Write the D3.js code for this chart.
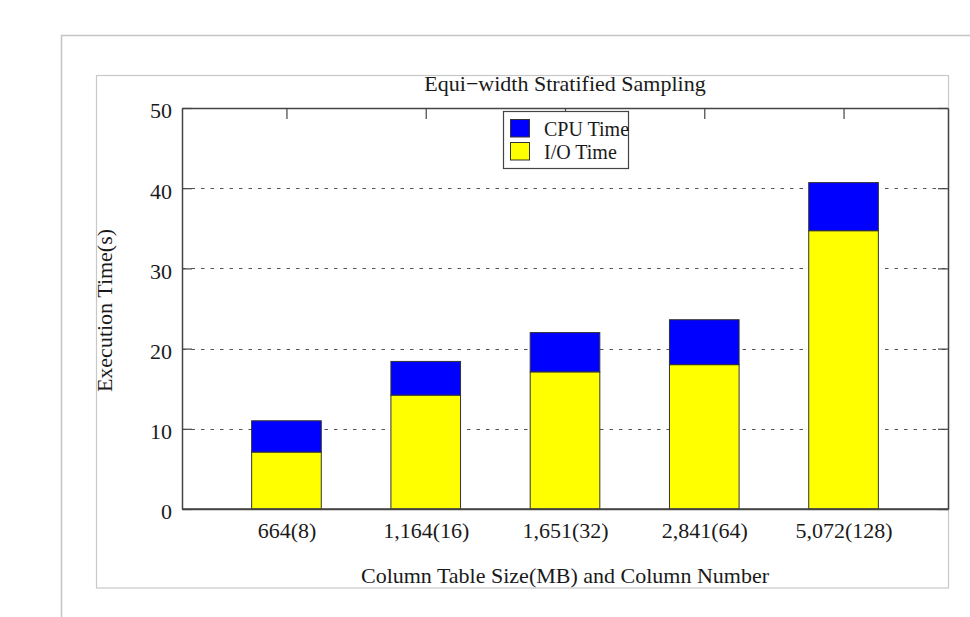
<!DOCTYPE html>
<html>
<head>
<meta charset="utf-8">
<script src="https://cdn.jsdelivr.net/npm/d3@7"></script>
<style>
  html, body { margin: 0; padding: 0; background: #ffffff; }
  svg { display: block; }
  text { font-family: "Liberation Serif", "Times New Roman", serif; fill: #1a1a1a; }
</style>
</head>
<body>
<svg id="chart" width="970" height="617"></svg>
<script>
// Stacked execution time per column table (seconds)
const categories = ["664(8)", "1,164(16)", "1,651(32)", "2,841(64)", "5,072(128)"];
const ioTime  = [7.1, 14.2, 17.1, 18.0, 34.7];
const cpuTime = [3.9, 4.2, 4.9, 5.6, 6.0];
const yTicks = [0, 10, 20, 30, 40, 50];
const seriesNames = ["CPU Time", "I/O Time"];
const seriesColors = { "CPU Time": "#0000ff", "I/O Time": "#ffff00" };

const svg = d3.select("#chart");
const W = 970, H = 617;

// plot area
const plotL = 182, plotR = 948, plotT = 108, plotB = 509;
const fontSize = 22;

// page frames
svg.append("path")
  .attr("d", `M61.5,${H} V35.5 H${W}`)
  .attr("fill", "none").attr("stroke", "#c4c4c4").attr("stroke-width", 1.5);
svg.append("rect")
  .attr("x", 96.5).attr("y", 75.5).attr("width", 852).attr("height", 512.5)
  .attr("fill", "none").attr("stroke", "#c8c8c8").attr("stroke-width", 1.2);

const x = d3.scaleLinear().domain([0.25, categories.length + 0.75]).range([plotL, plotR]);
const y = d3.scaleLinear().domain([0, 50]).range([plotB, plotT]);

// dotted grid
svg.append("g").selectAll("line")
  .data(yTicks.filter(v => v > 0 && v < 50))
  .join("line")
  .attr("x1", plotL).attr("x2", plotR)
  .attr("y1", d => Math.round(y(d)) + 0.5).attr("y2", d => Math.round(y(d)) + 0.5)
  .attr("stroke", "#555").attr("stroke-width", 1.2)
  .attr("stroke-dasharray", "3.5,6");

// axes (drawn under the bars so the inward bottom ticks stay hidden)
const axisColor = "#444";
const centers = categories.map((c, i) => i + 1);
function styleAxis(g) {
  g.selectAll("path.domain").attr("stroke", axisColor).attr("stroke-width", 1.5);
  g.selectAll(".tick line").attr("stroke", axisColor).attr("stroke-width", 1.2);
  g.selectAll(".tick text").attr("font-family", "Liberation Serif")
    .attr("font-size", fontSize).attr("fill", "#1a1a1a");
}

svg.append("g").attr("transform", `translate(${plotL},0)`)
  .call(d3.axisLeft(y).tickValues(yTicks).tickSizeInner(-10).tickSizeOuter(0).tickPadding(10))
  .call(styleAxis)
  .call(g => g.selectAll(".tick text").attr("dy", "0.45em"));

svg.append("g").attr("transform", `translate(${plotR},0)`)
  .call(d3.axisRight(y).tickValues(yTicks).tickSizeInner(-10).tickSizeOuter(0).tickFormat(""))
  .call(styleAxis);

svg.append("g").attr("transform", `translate(0,${plotT})`)
  .call(d3.axisTop(x).tickValues(centers).tickSizeInner(-11).tickSizeOuter(0).tickFormat(""))
  .call(styleAxis);

svg.append("g").attr("transform", `translate(0,${plotB})`)
  .call(d3.axisBottom(x).tickValues(centers).tickSizeInner(-10).tickSizeOuter(0).tickPadding(13)
    .tickFormat((d, i) => categories[i]))
  .call(styleAxis);

// stacked bars
const stackData = categories.map((c, i) => ({ idx: i + 1, "I/O Time": ioTime[i], "CPU Time": cpuTime[i] }));
const stacked = d3.stack().keys(["I/O Time", "CPU Time"])(stackData);
const barW = x(1.5) - x(1);
svg.append("g").selectAll("g")
  .data(stacked)
  .join("g")
  .attr("fill", d => seriesColors[d.key])
  .selectAll("rect")
  .data(d => d)
  .join("rect")
  .attr("x", d => x(d.data.idx) - barW / 2)
  .attr("width", barW)
  .attr("y", d => y(d[1]))
  .attr("height", d => y(d[0]) - y(d[1]))
  .attr("stroke", "#333").attr("stroke-width", 1);

// baseline redrawn over the bar bottoms
svg.append("line")
  .attr("x1", plotL).attr("x2", plotR).attr("y1", plotB).attr("y2", plotB)
  .attr("stroke", axisColor).attr("stroke-width", 1.5);

// title and axis titles
svg.append("text")
  .attr("x", (plotL + plotR) / 2).attr("y", 91)
  .attr("text-anchor", "middle").attr("font-size", fontSize)
  .text("Equi\u2212width Stratified Sampling");

svg.append("text")
  .attr("x", (plotL + plotR) / 2).attr("y", 583)
  .attr("text-anchor", "middle").attr("font-size", fontSize)
  .text("Column Table Size(MB) and Column Number");

svg.append("text")
  .attr("transform", `translate(112,${(plotT + plotB) / 2 + 2}) rotate(-90)`)
  .attr("text-anchor", "middle").attr("font-size", fontSize)
  .text("Execution Time(s)");

// legend
const lg = svg.append("g");
lg.append("rect")
  .attr("x", 503.5).attr("y", 111.5).attr("width", 125).attr("height", 57)
  .attr("fill", "#fff").attr("stroke", "#444").attr("stroke-width", 1.2);
seriesNames.forEach((name, i) => {
  lg.append("rect")
    .attr("x", 510.5).attr("y", 119.5 + i * 23).attr("width", 19).attr("height", 17.5)
    .attr("fill", seriesColors[name]).attr("stroke", "#333").attr("stroke-width", 1);
  lg.append("text")
    .attr("x", 544).attr("y", 136 + i * 23)
    .attr("font-size", 20)
    .text(name);
});
</script>
</body>
</html>
